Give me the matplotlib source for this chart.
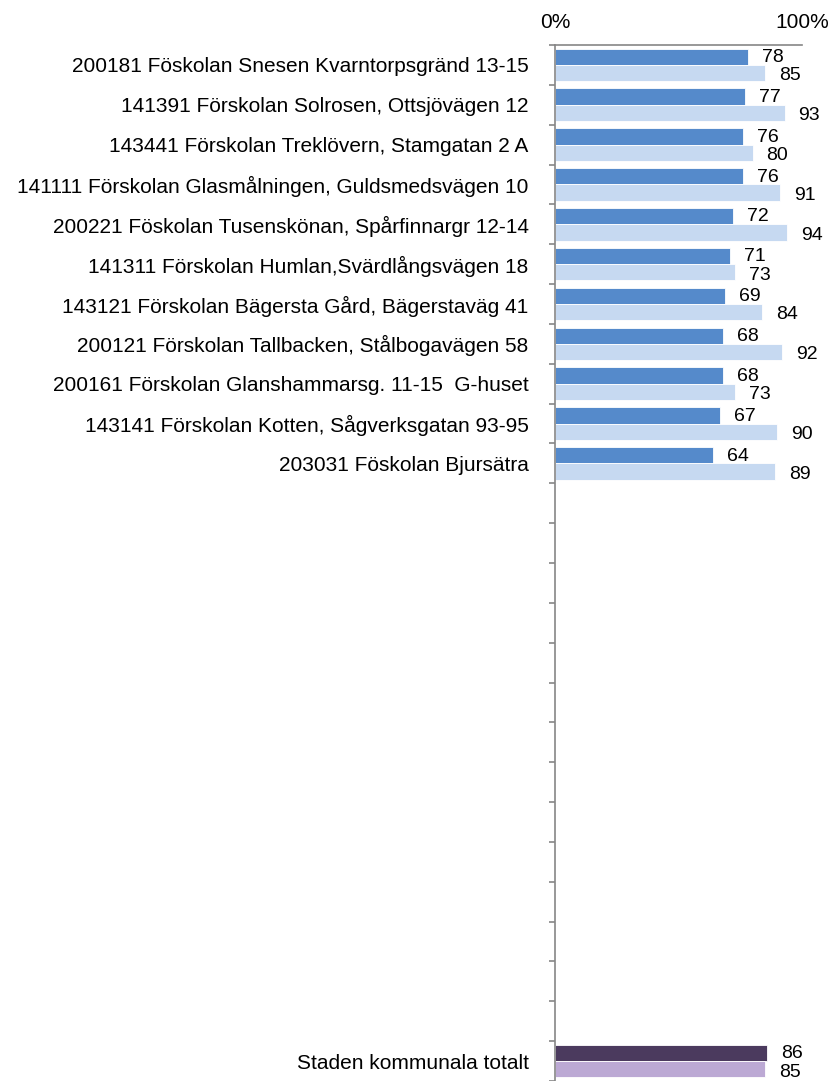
import matplotlib.pyplot as plt
import numpy as np

plt.rcParams['font.family'] = ['Liberation Sans', 'DejaVu Sans']

# Schools, top to bottom
schools = [
    '200181 Föskolan Snesen Kvarntorpsgränd 13-15',
    '141391 Förskolan Solrosen, Ottsjövägen 12',
    '143441 Förskolan Treklövern, Stamgatan 2 A',
    '141111 Förskolan Glasmålningen, Guldsmedsvägen 10',
    '200221 Föskolan Tusenskönan, Spårfinnargr 12-14',
    '141311 Förskolan Humlan,Svärdlångsvägen 18',
    '143121 Förskolan Bägersta Gård, Bägerstaväg 41',
    '200121 Förskolan Tallbacken, Stålbogavägen 58',
    '200161 Förskolan Glanshammarsg. 11-15  G-huset',
    '143141 Förskolan Kotten, Sågverksgatan 93-95',
    '203031 Föskolan Bjursätra',
]
school_a = [78, 77, 76, 76, 72, 71, 69, 68, 68, 67, 64]
school_b = [85, 93, 80, 91, 94, 73, 84, 92, 73, 90, 89]

total_label = 'Staden kommunala totalt'
total_a = 86
total_b = 85

n_empty = 14

labels = schools + [''] * n_empty + [total_label]
n = len(labels)

dark_blue = '#558ACB'
light_blue = '#C6D9F1'
dark_purple = '#4B3A5E'
light_purple = '#BCA9D4'

fig = plt.figure(figsize=(8.32, 10.81), dpi=100)
ax = fig.add_axes([555 / 832, 0.0, (802 - 555) / 832, (1081 - 45) / 1081])

h = 0.41
y_school = np.arange(len(schools))
y_total = n - 1

ax.barh(y_school - h / 2, school_a, height=h, color=dark_blue,
        edgecolor='white', linewidth=0.6)
ax.barh(y_school + h / 2, school_b, height=h, color=light_blue,
        edgecolor='white', linewidth=0.6)
ax.barh(y_total - h / 2, total_a, height=h, color=dark_purple,
        edgecolor='white', linewidth=0.6)
ax.barh(y_total + h / 2, total_b, height=h, color=light_purple,
        edgecolor='white', linewidth=0.6)

# value labels outside the bar ends
def put_labels(ys, vals, dy):
    for y, v in zip(ys, vals):
        ax.annotate(f'{v}', xy=(v, y + dy), xytext=(10, 0),
                    textcoords='offset points', ha='left', va='center',
                    fontsize=14, color='black')

put_labels(y_school - h / 2, school_a, 0.02)
put_labels(y_school + h / 2, school_b, 0.07)
put_labels([y_total - h / 2], [total_a], 0.02)
put_labels([y_total + h / 2], [total_b], 0.07)

ax.set_xlim(0, 100)
ax.set_ylim(n - 0.5, -0.5)

ax.xaxis.tick_top()
ax.set_xticks([0, 100])
ax.set_xticklabels(['0%', '100%'], fontsize=15)
ax.tick_params(axis='x', length=0, pad=9)

ax.set_yticks(np.arange(n))
ax.set_yticklabels(labels, fontsize=15)
ax.set_yticks(np.arange(n + 1) - 0.5, minor=True)
ax.tick_params(axis='y', which='major', length=0, pad=19)
ax.tick_params(axis='y', which='minor', length=4, width=1.2, color='#868686')

for side in ['right', 'bottom']:
    ax.spines[side].set_visible(False)
for side in ['left', 'top']:
    ax.spines[side].set_color('#868686')
    ax.spines[side].set_linewidth(1.2)

fig.savefig('out.png', dpi=100)
